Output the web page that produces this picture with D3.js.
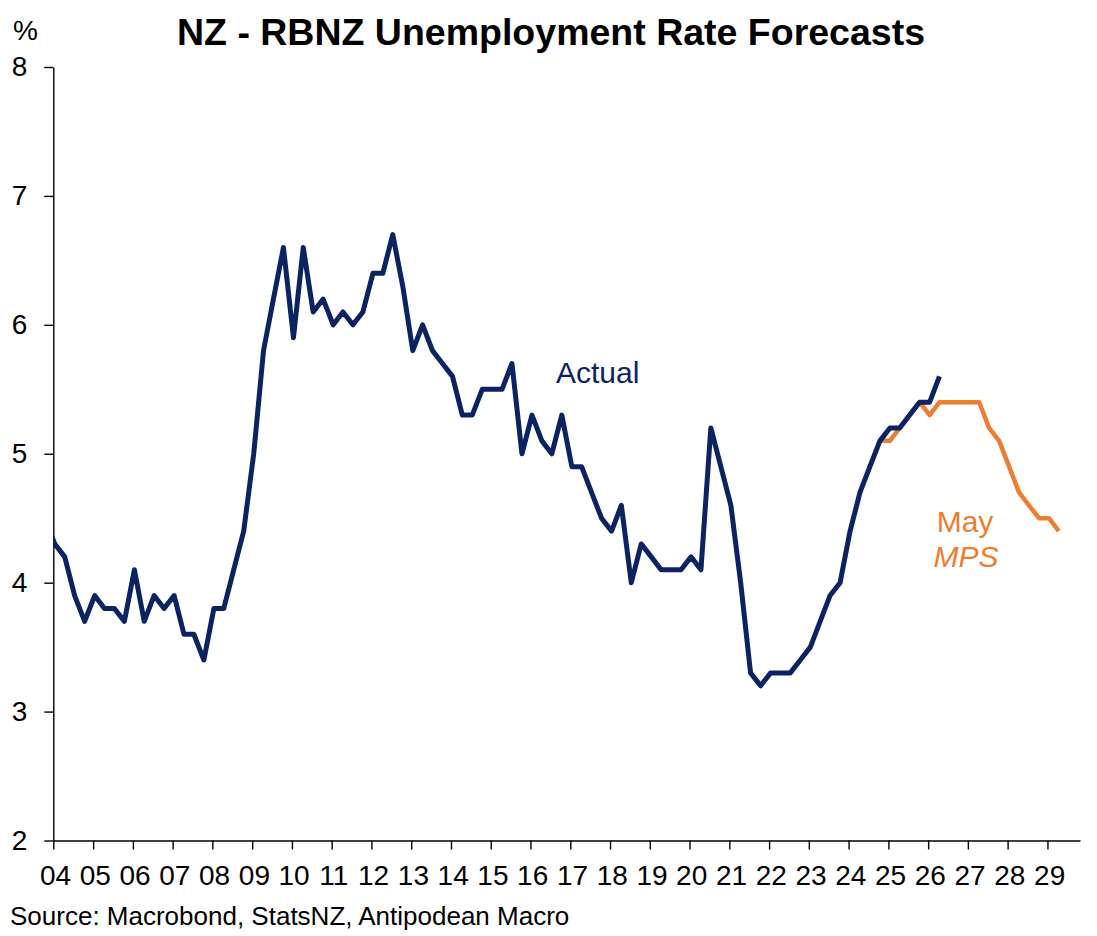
<!DOCTYPE html>
<html>
<head>
<meta charset="utf-8">
<script src="https://cdn.jsdelivr.net/npm/d3@7"></script>
<style>
	body { margin: 0; background: #fff; }
	text { font-family: "Liberation Sans", Arial, sans-serif; }
</style>
</head>
<body>
<div id="chart"></div>
<script>
	"use strict";

	// quarterly unemployment rate, first value is actualStart
	var actualStart = [2003, 4],
		actualValues = [
			4.5,
			4.3, 4.2, 3.9, 3.7,
			3.9, 3.8, 3.8, 3.7,
			4.1, 3.7, 3.9, 3.8,
			3.9, 3.6, 3.6, 3.4,
			3.8, 3.8, 4.1, 4.4,
			5.0, 5.8, 6.2, 6.6,
			5.9, 6.6, 6.1, 6.2,
			6.0, 6.1, 6.0, 6.1,
			6.4, 6.4, 6.7, 6.3,
			5.8, 6.0, 5.8, 5.7,
			5.6, 5.3, 5.3, 5.5,
			5.5, 5.5, 5.7, 5.0,
			5.3, 5.1, 5.0, 5.3,
			4.9, 4.9, 4.7, 4.5,
			4.4, 4.6, 4.0, 4.3,
			4.2, 4.1, 4.1, 4.1,
			4.2, 4.1, 5.2, 4.9,
			4.6, 4.0, 3.3, 3.2,
			3.3, 3.3, 3.3, 3.4,
			3.5, 3.7, 3.9, 4.0,
			4.4, 4.7, 4.9, 5.1,
			5.2, 5.2, 5.3, 5.4,
			5.4, 5.6
		];

	// RBNZ May MPS forecast
	var mpsStart = [2024, 4],
		mpsValues = [
			5.1,
			5.1, 5.2, 5.3, 5.4,
			5.3, 5.4, 5.4, 5.4,
			5.4, 5.4, 5.2, 5.1,
			4.9, 4.7, 4.6, 4.5,
			4.5, 4.4
		];

	var yTicks = [2, 3, 4, 5, 6, 7, 8],
		xTickLabels = ["04", "05", "06", "07", "08", "09", "10", "11", "12", "13", "14", "15", "16",
			"17", "18", "19", "20", "21", "22", "23", "24", "25", "26", "27", "28", "29"];

	var chartWidth = 1097,
		chartHeight = 936,
		plot = { left: 53.3, right: 1080, top: 67, bottom: 840.5 },
		navy = "#0b2361",
		orange = "#ed7d31";

	function toSeries(start, values) {
		return values.map(function(v, i) {
			var q = (start[1] - 1) + i,
				year = start[0] + Math.floor(q / 4);
			return { date: new Date(Date.UTC(year, (q % 4) * 3, 15)), value: v };
		});
	}

	var actual = toSeries(actualStart, actualValues),
		mps = toSeries(mpsStart, mpsValues),
		tickDates = xTickLabels.map(function(l) {
			return new Date(Date.UTC(2000 + parseInt(l, 10), 0, 1));
		});

	var x = d3.scaleUtc()
			.domain([new Date(Date.UTC(2004, 0, 1)), new Date(Date.UTC(2029, 9, 27))])
			.range([plot.left, plot.right]),
		y = d3.scaleLinear()
			.domain([2, 8])
			.range([plot.bottom, plot.top]);

	var svg = d3.select("#chart")
		.append("svg")
		.attr("width", chartWidth)
		.attr("height", chartHeight);

	svg.append("defs").append("clipPath")
		.attr("id", "plotClip")
		.append("rect")
		.attr("x", plot.left)
		.attr("y", 0)
		.attr("width", plot.right - plot.left)
		.attr("height", chartHeight);

	// title and labels
	svg.append("text")
		.attr("x", 551)
		.attr("y", 44.5)
		.attr("text-anchor", "middle")
		.style("font-size", "37.5px")
		.style("font-weight", "bold")
		.text("NZ - RBNZ Unemployment Rate Forecasts");

	svg.append("text")
		.attr("x", 13)
		.attr("y", 40)
		.style("font-size", "28px")
		.text("%");

	svg.append("text")
		.attr("x", 10)
		.attr("y", 925)
		.style("font-size", "26px")
		.text("Source: Macrobond, StatsNZ, Antipodean Macro");

	// axes
	var yAxisG = svg.append("g")
		.attr("transform", "translate(" + plot.left + ",0)")
		.call(d3.axisLeft(y).tickValues(yTicks).tickFormat(d3.format("d"))
			.tickSize(9).tickSizeOuter(0).tickPadding(17));

	var xAxisG = svg.append("g")
		.attr("transform", "translate(0," + plot.bottom + ")")
		.call(d3.axisBottom(x).tickValues(tickDates).tickFormat(d3.utcFormat("%y"))
			.tickSize(9).tickSizeOuter(0).tickPadding(16));

	[yAxisG, xAxisG].forEach(function(g) {
		g.select(".domain").attr("stroke", "#000").attr("stroke-width", 1.4);
		g.selectAll(".tick line").attr("stroke", "#000").attr("stroke-width", 1.4);
		g.selectAll(".tick text")
			.attr("fill", "#000")
			.style("font-size", "28px")
			.style("font-family", "'Liberation Sans', Arial, sans-serif");
	});
	xAxisG.selectAll(".tick text").attr("dx", "0.06em");

	// lines
	var line = d3.line()
		.x(function(d) { return x(d.date); })
		.y(function(d) { return y(d.value); });

	var linesG = svg.append("g").attr("clip-path", "url(#plotClip)");

	linesG.append("path")
		.datum(mps)
		.attr("fill", "none")
		.attr("stroke", orange)
		.attr("stroke-width", 4.5)
		.attr("stroke-linejoin", "round")
		.attr("d", line);

	linesG.append("path")
		.datum(actual)
		.attr("fill", "none")
		.attr("stroke", navy)
		.attr("stroke-width", 5)
		.attr("stroke-linejoin", "round")
		.attr("d", line);

	// series labels
	svg.append("text")
		.attr("x", 556)
		.attr("y", 383)
		.attr("fill", navy)
		.style("font-size", "30px")
		.text("Actual");

	svg.append("text")
		.attr("x", 965)
		.attr("y", 532)
		.attr("text-anchor", "middle")
		.attr("fill", orange)
		.style("font-size", "30px")
		.text("May");

	svg.append("text")
		.attr("x", 966)
		.attr("y", 567)
		.attr("text-anchor", "middle")
		.attr("fill", orange)
		.style("font-size", "30px")
		.style("font-style", "italic")
		.text("MPS");
</script>
</body>
</html>
